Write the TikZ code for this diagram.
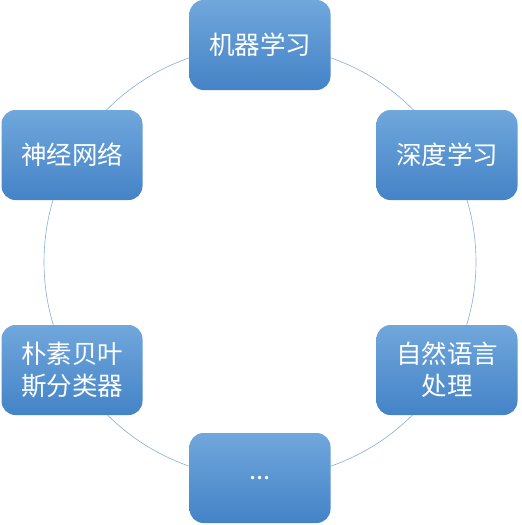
\documentclass[tikz,border=0pt]{standalone}
\usepackage{fontspec}
\newfontfamily\cjk{Noto Sans CJK SC}
\begin{document}
\begin{tikzpicture}[x=1pt,y=-1pt,
  topic/.style={rounded corners=14pt, minimum width=141pt, minimum height=90pt,
    top color=boxtop, bottom color=boxbot, draw=none, text=white,
    font=\cjk\fontsize{25.5}{32}\selectfont, align=center, inner sep=0pt},
  ring/.style={draw=ringc, line width=0.6pt}]
\definecolor{boxtop}{HTML}{70A7DC}
\definecolor{boxbot}{HTML}{4483C7}
\definecolor{ringc}{HTML}{86ACD9}
\useasboundingbox (0,0) rectangle (522,525);
\coordinate (c) at (260,262);
\draw[ring] (c) circle[radius=216];
\node[topic] (a) at (260,45) {机器学习};
\node[topic] (b) at (447,155) {深度学习};
\node[topic] (f) at (447,370) {自然语言\\处理};
\node[topic] (e) at (260,478) {...};
\node[topic] (d) at (72,370) {朴素贝叶\\斯分类器};
\node[topic] (g) at (72,155) {神经网络};
\end{tikzpicture}
\end{document}
